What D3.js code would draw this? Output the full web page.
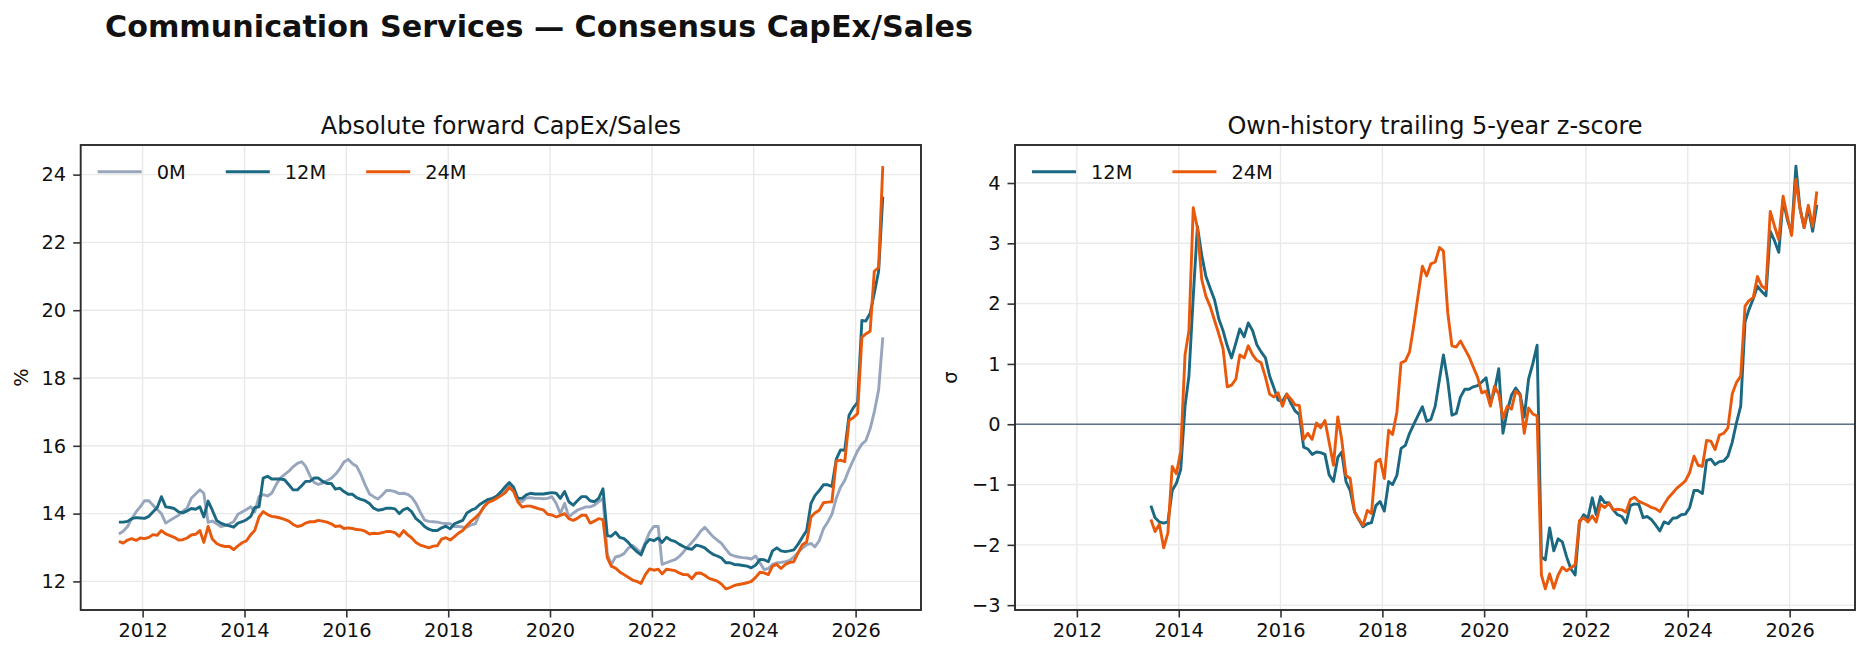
<!DOCTYPE html>
<html><head><meta charset="utf-8">
<script src="https://cdn.jsdelivr.net/npm/d3@7"></script>
<style>body{margin:0;background:#fff}svg{display:block}text{font-family:"DejaVu Sans",sans-serif;fill:#111}</style>
</head><body><svg id="c" width="1869" height="659"></svg>
<script>
// ---------------- DATA ----------------
const startYear = 2011, startMonth = 7, monthCount = 181;   // monthly, Jul-2011 .. Jul-2026
const xTickYears = [2012, 2014, 2016, 2018, 2020, 2022, 2024, 2026];
const yTicksLeft = [12, 14, 16, 18, 20, 22, 24];
const yTicksRight = [-3, -2, -1, 0, 1, 2, 3, 4];
const seriesNamesLeft = ["0M", "12M", "24M"];
const seriesNamesRight = ["12M", "24M"];

// Absolute forward CapEx/Sales (%)
const cap0 = [
 13.4, 13.48, 13.62, 13.85, 14.05, 14.2,
 14.38, 14.38, 14.25, 14.12, 14.0, 13.72, 13.8, 13.88, 13.95, 14.07, 14.16, 14.45,
 14.58, 14.7, 14.6, 13.74, 13.78, 13.7, 13.62, 13.65, 13.7, 13.76, 13.98, 14.05,
 14.12, 14.2, 14.05, 14.5, 14.56, 14.52, 14.6, 14.85, 15.05, 15.15, 15.25, 15.38,
 15.48, 15.53, 15.4, 15.12, 14.92, 14.86, 14.9, 14.97, 15.04, 15.16, 15.32, 15.52,
 15.6, 15.47, 15.4, 15.15, 14.85, 14.58, 14.5, 14.43, 14.55, 14.68, 14.68, 14.65,
 14.59, 14.6, 14.57, 14.48, 14.3, 14.04, 13.81, 13.77, 13.76, 13.75, 13.72, 13.71,
 13.7, 13.62, 13.62, 13.6, 13.6, 13.67, 13.7, 14.0, 14.22, 14.35, 14.44, 14.49,
 14.6, 14.72, 14.82, 14.7, 14.4, 14.35, 14.46, 14.47, 14.45, 14.45, 14.44, 14.45,
 14.5, 14.3, 14.0, 14.3, 13.9, 14.01, 14.1, 14.15, 14.2, 14.2, 14.25, 14.35,
 14.45, 12.8, 12.5, 12.72, 12.75, 12.82, 12.98, 13.06, 12.95, 12.85, 13.15, 13.45,
 13.62, 13.62, 12.5, 12.55, 12.6, 12.64, 12.73, 12.87, 13.02, 13.15, 13.3, 13.47,
 13.6, 13.45, 13.32, 13.22, 13.12, 12.95, 12.8, 12.75, 12.72, 12.7, 12.69, 12.66,
 12.75, 12.55, 12.35, 12.38, 12.5, 12.55, 12.56, 12.58, 12.62, 12.72, 12.85, 12.98,
 13.08, 13.12, 13.02, 13.2, 13.55, 13.75, 13.98, 14.45, 14.78, 14.98, 15.3, 15.58,
 15.85, 16.05, 16.15, 16.5, 17.0, 17.65, 19.2
];
const cap12 = [
 13.75, 13.75, 13.77, 13.85, 13.88, 13.87,
 13.86, 13.92, 14.05, 14.18, 14.5, 14.2, 14.18, 14.15, 14.05, 14.02, 14.08, 14.15,
 14.13, 14.2, 13.9, 14.37, 14.1, 13.8, 13.72, 13.67, 13.64, 13.6, 13.72, 13.76,
 13.82, 13.92, 14.18, 14.2, 15.05, 15.1, 15.02, 15.02, 15.02, 15.0, 14.85, 14.7,
 14.7, 14.82, 14.95, 14.95, 15.05, 15.05, 14.95, 14.89, 14.89, 14.72, 14.75, 14.65,
 14.57, 14.57, 14.47, 14.42, 14.38, 14.3, 14.16, 14.1, 14.12, 14.16, 14.16, 14.14,
 14.0, 14.12, 14.16, 14.05, 13.85, 13.75, 13.62, 13.54, 13.5, 13.5, 13.58, 13.63,
 13.55, 13.7, 13.75, 13.8, 14.02, 14.1, 14.15, 14.27, 14.35, 14.42, 14.45, 14.52,
 14.65, 14.8, 14.92, 14.78, 14.45, 14.45, 14.55, 14.6, 14.58, 14.58, 14.58, 14.6,
 14.62, 14.6, 14.45, 14.65, 14.35, 14.25, 14.38, 14.5, 14.5, 14.38, 14.35, 14.45,
 14.73, 13.35, 13.33, 13.45, 13.3, 13.26, 13.15, 13.0, 12.88, 12.78, 13.1, 13.24,
 13.2, 13.28, 13.15, 13.3, 13.22, 13.18, 13.1, 13.03, 12.97, 12.95, 13.07, 13.04,
 12.99, 12.88, 12.8, 12.75, 12.69, 12.55, 12.55, 12.5, 12.49, 12.47, 12.45, 12.4,
 12.48, 12.65, 12.64, 12.58, 12.9, 12.99, 12.9, 12.88, 12.9, 12.93, 13.1, 13.3,
 13.5, 14.3, 14.53, 14.68, 14.85, 14.85, 14.8, 15.6, 15.88, 15.87, 16.9, 17.12,
 17.28, 19.7, 19.68, 19.9, 20.5, 21.15, 23.35
];
const cap24 = [
 13.18, 13.13, 13.22, 13.26, 13.21, 13.28,
 13.26, 13.3, 13.38, 13.36, 13.5, 13.4, 13.35, 13.3, 13.22, 13.23, 13.28, 13.37,
 13.39, 13.5, 13.15, 13.62, 13.25, 13.12, 13.06, 13.03, 13.03, 12.94, 13.05, 13.14,
 13.2, 13.38, 13.5, 13.9, 14.06, 13.97, 13.92, 13.9, 13.87, 13.83, 13.78, 13.68,
 13.62, 13.65, 13.72, 13.76, 13.76, 13.8, 13.78, 13.75, 13.7, 13.62, 13.64, 13.56,
 13.58, 13.56, 13.53, 13.52, 13.48, 13.4, 13.42, 13.41, 13.44, 13.47, 13.47, 13.44,
 13.33, 13.5, 13.38, 13.28, 13.15, 13.07, 13.03, 12.99, 13.04, 13.05, 13.25, 13.29,
 13.22, 13.32, 13.42, 13.5, 13.65, 13.78, 13.88, 14.01, 14.2, 14.33, 14.38, 14.45,
 14.53, 14.62, 14.78, 14.65, 14.35, 14.19, 14.22, 14.22, 14.18, 14.14, 14.11, 13.98,
 13.96, 13.9, 13.95, 14.0, 13.85, 13.8, 13.86, 13.95, 13.95, 13.72, 13.78, 13.85,
 13.82, 12.7, 12.45, 12.39, 12.28, 12.2, 12.12, 12.04, 12.0, 11.94, 12.2, 12.37,
 12.33, 12.36, 12.22, 12.36, 12.34, 12.32, 12.25, 12.2, 12.2, 12.08, 12.24, 12.25,
 12.18, 12.09, 12.05, 12.01, 11.92, 11.78, 11.82, 11.88, 11.91, 11.93, 11.96, 12.0,
 12.12, 12.27, 12.25, 12.2, 12.45, 12.5, 12.38, 12.5, 12.56, 12.58, 12.85, 13.08,
 13.16, 13.9, 14.02, 14.1, 14.32, 14.34, 14.35, 15.55, 15.58, 15.53, 16.75, 16.83,
 16.95, 19.2, 19.3, 19.38, 21.15, 21.26, 24.25
];

// Own-history trailing 5-year z-score (sigma); first 23 months undefined
const z12 = [
 null, null, null, null, null, null,
 null, null, null, null, null, null, null, null, null, null, null, null,
 null, null, null, null, null,
 -1.35, -1.55, -1.62, -1.64, -1.62, -1.1, -0.98,
 -0.75, 0.3, 0.8, 2.12, 3.28, 2.8, 2.45, 2.25, 2.06, 1.75, 1.55, 1.3,
 1.1, 1.35, 1.58, 1.45, 1.68, 1.55, 1.32, 1.2, 1.1, 0.8, 0.6, 0.4,
 0.38, 0.5, 0.35, 0.22, 0.16, -0.38, -0.41, -0.5, -0.46, -0.47, -0.5, -0.84,
 -0.95, -0.55, -0.46, -0.95, -1.1, -1.45, -1.58, -1.7, -1.65, -1.63, -1.35, -1.28,
 -1.44, -0.95, -1.0, -0.85, -0.4, -0.35, -0.15, 0.0, 0.15, 0.29, 0.05, 0.08,
 0.3, 0.75, 1.15, 0.72, 0.15, 0.18, 0.45, 0.58, 0.58, 0.62, 0.64, 0.7,
 0.77, 0.35, 0.55, 0.92, -0.15, 0.22, 0.48, 0.6, 0.5, 0.12, 0.75, 1.0,
 1.31, -2.2, -2.25, -1.72, -2.1, -1.9, -1.95, -2.2, -2.4, -2.5, -1.63, -1.5,
 -1.56, -1.22, -1.5, -1.2, -1.3, -1.3, -1.42, -1.5, -1.53, -1.64, -1.35, -1.32,
 -1.33, -1.55, -1.53, -1.58, -1.67, -1.77, -1.62, -1.65, -1.56, -1.55, -1.5, -1.49,
 -1.38, -1.1, -1.1, -1.15, -0.6, -0.58, -0.67, -0.62, -0.61, -0.53, -0.3, 0.02,
 0.3, 1.7, 1.9, 2.08, 2.29, 2.2, 2.13, 3.2, 3.04, 2.85, 3.72, 3.4,
 3.17, 4.28, 3.6, 3.26, 3.58, 3.2, 3.64
];
const z24 = [
 null, null, null, null, null, null,
 null, null, null, null, null, null, null, null, null, null, null, null,
 null, null, null, null, null,
 -1.58, -1.78, -1.66, -2.05, -1.8, -0.7, -0.82,
 -0.45, 1.15, 1.55, 3.59, 3.25, 2.4, 2.12, 1.95, 1.72, 1.5, 1.25, 0.62,
 0.65, 0.75, 1.15, 1.1, 1.3, 1.15, 1.06, 1.02, 0.78, 0.5, 0.45, 0.52,
 0.3, 0.5, 0.42, 0.32, 0.31, -0.25, -0.15, -0.25, 0.02, -0.06, 0.06, -0.3,
 -0.68, 0.12, -0.25, -0.85, -0.9, -1.45, -1.57, -1.68, -1.43, -1.48, -0.63, -0.58,
 -0.9, -0.1, -0.17, 0.2, 1.02, 1.05, 1.2, 1.65, 2.15, 2.62, 2.46, 2.66,
 2.69, 2.93, 2.87, 1.85, 1.3, 1.28, 1.38, 1.25, 1.12, 0.95, 0.78, 0.52,
 0.55, 0.3, 0.63, 0.5, 0.1, 0.3, 0.25, 0.55, 0.48, -0.15, 0.27, 0.17,
 0.14, -2.5, -2.73, -2.48, -2.72, -2.5, -2.37, -2.43, -2.38, -2.33, -1.6, -1.55,
 -1.62, -1.52, -1.62, -1.33, -1.38, -1.31, -1.42, -1.41, -1.42, -1.46, -1.25, -1.21,
 -1.28, -1.31, -1.34, -1.38, -1.4, -1.45, -1.33, -1.22, -1.14, -1.06, -1.0, -0.94,
 -0.8, -0.53, -0.68, -0.7, -0.27, -0.28, -0.42, -0.18, -0.15, -0.06, 0.5, 0.69,
 0.8, 1.96, 2.05, 2.1, 2.45, 2.29, 2.24, 3.53, 3.28, 3.06, 3.78, 3.45,
 3.13, 4.06, 3.59, 3.26, 3.63, 3.28, 3.86
];

// ---------------- STYLE ----------------
const COL = { "0M": "#98a6bd", "12M": "#1b6882", "24M": "#e8590c" };
const W = 1869, H = 659;
const panels = [
  { x0: 80.7, x1: 921, title: "Absolute forward CapEx/Sales", ylabel: "%", ylabelX: 21,
    series: [cap0, cap12, cap24], names: seriesNamesLeft, yTicks: yTicksLeft, zero: false },
  { x0: 1015, x1: 1855, title: "Own-history trailing 5-year z-score", ylabel: "σ", ylabelX: 950,
    series: [z12, z24], names: seriesNamesRight, yTicks: yTicksRight, zero: true }
];
const yTop = 145, yBot = 610;

const dates = d3.range(monthCount).map(i => new Date(startYear, startMonth - 1 + i, 15));
const svg = d3.select("#c");
svg.append("rect").attr("width", W).attr("height", H).attr("fill", "#fff");

svg.append("text").attr("x", 105).attr("y", 37)
  .attr("font-size", 30.2).attr("font-weight", "bold").text("Communication Services — Consensus CapEx/Sales");

const fmt = v => (v < 0 ? "\u2212" + Math.abs(v) : String(v));

panels.forEach(p => {
  const t0 = +dates[0], t1 = +dates[dates.length - 1], span = t1 - t0;
  const x = d3.scaleTime().domain([new Date(t0 - 0.05 * span), new Date(t1 + 0.05 * span)]).range([p.x0, p.x1]);
  const all = p.series.flat().filter(v => v != null);
  const lo = d3.min(all), hi = d3.max(all), pad = 0.05 * (hi - lo);
  const y = d3.scaleLinear().domain([lo - pad, hi + pad]).range([yBot, yTop]);
  const g = svg.append("g");

  // grid
  const xt = xTickYears.map(yr => new Date(yr, 0, 1));
  g.append("g").selectAll("line").data(xt).join("line")
    .attr("x1", d => x(d)).attr("x2", d => x(d)).attr("y1", yTop).attr("y2", yBot)
    .attr("stroke", "#e9e9e9").attr("stroke-width", 1.4);
  g.append("g").selectAll("line").data(p.yTicks).join("line")
    .attr("x1", p.x0).attr("x2", p.x1).attr("y1", d => y(d)).attr("y2", d => y(d))
    .attr("stroke", "#e9e9e9").attr("stroke-width", 1.4);

  if (p.zero) {
    g.append("line").attr("x1", p.x0).attr("x2", p.x1).attr("y1", y(0)).attr("y2", y(0))
      .attr("stroke", "#5f7189").attr("stroke-width", 1.4);
  }

  // lines
  const clipId = "clip" + Math.round(p.x0);
  svg.append("clipPath").attr("id", clipId).append("rect")
    .attr("x", p.x0).attr("y", yTop).attr("width", p.x1 - p.x0).attr("height", yBot - yTop);
  p.series.forEach((s, k) => {
    const line = d3.line().defined(d => d != null).x((d, i) => x(dates[i])).y(d => y(d));
    g.append("path").attr("d", line(s)).attr("fill", "none")
      .attr("stroke", COL[p.names[k]]).attr("stroke-width", 2.9)
      .attr("stroke-linejoin", "round").attr("clip-path", `url(#${clipId})`);
  });

  // axes
  const ax = d3.axisBottom(x).tickValues(xt).tickFormat(d3.timeFormat("%Y")).tickSize(7.5).tickPadding(6);
  const gx = g.append("g").attr("transform", `translate(0,${yBot})`).call(ax);
  const ay = d3.axisLeft(y).tickValues(p.yTicks).tickFormat(fmt).tickSize(7.5).tickPadding(7);
  const gy = g.append("g").attr("transform", `translate(${p.x0},0)`).call(ay);
  [gx, gy].forEach(a => {
    a.select(".domain").remove();
    a.selectAll(".tick line").attr("stroke", "#333").attr("stroke-width", 1.6);
    a.selectAll(".tick text").attr("font-size", 19.4).attr("fill", "#111")
      .attr("font-family", '"DejaVu Sans", sans-serif');
  });

  // frame
  g.append("rect").attr("x", p.x0).attr("y", yTop).attr("width", p.x1 - p.x0).attr("height", yBot - yTop)
    .attr("fill", "none").attr("stroke", "#2b2b2b").attr("stroke-width", 1.9);

  // titles
  g.append("text").attr("x", (p.x0 + p.x1) / 2).attr("y", 134).attr("text-anchor", "middle")
    .attr("font-size", 24).text(p.title);
  g.append("text").attr("transform", `translate(${p.ylabelX + 7},${(yTop + yBot) / 2}) rotate(-90)`)
    .attr("text-anchor", "middle").attr("font-size", 19.4).text(p.ylabel);

  // legend
  const lg = g.append("g").attr("transform", `translate(${p.x0 + 17},171.7)`);
  let off = 0;
  p.names.forEach(n => {
    lg.append("line").attr("x1", off).attr("x2", off + 44).attr("y1", 0).attr("y2", 0)
      .attr("stroke", COL[n]).attr("stroke-width", 2.9);
    const t = lg.append("text").attr("x", off + 59).attr("y", 7).attr("font-size", 19.4).text(n);
    off += 59 + t.node().getComputedTextLength() + 40;
  });
});
</script>
</body></html>
